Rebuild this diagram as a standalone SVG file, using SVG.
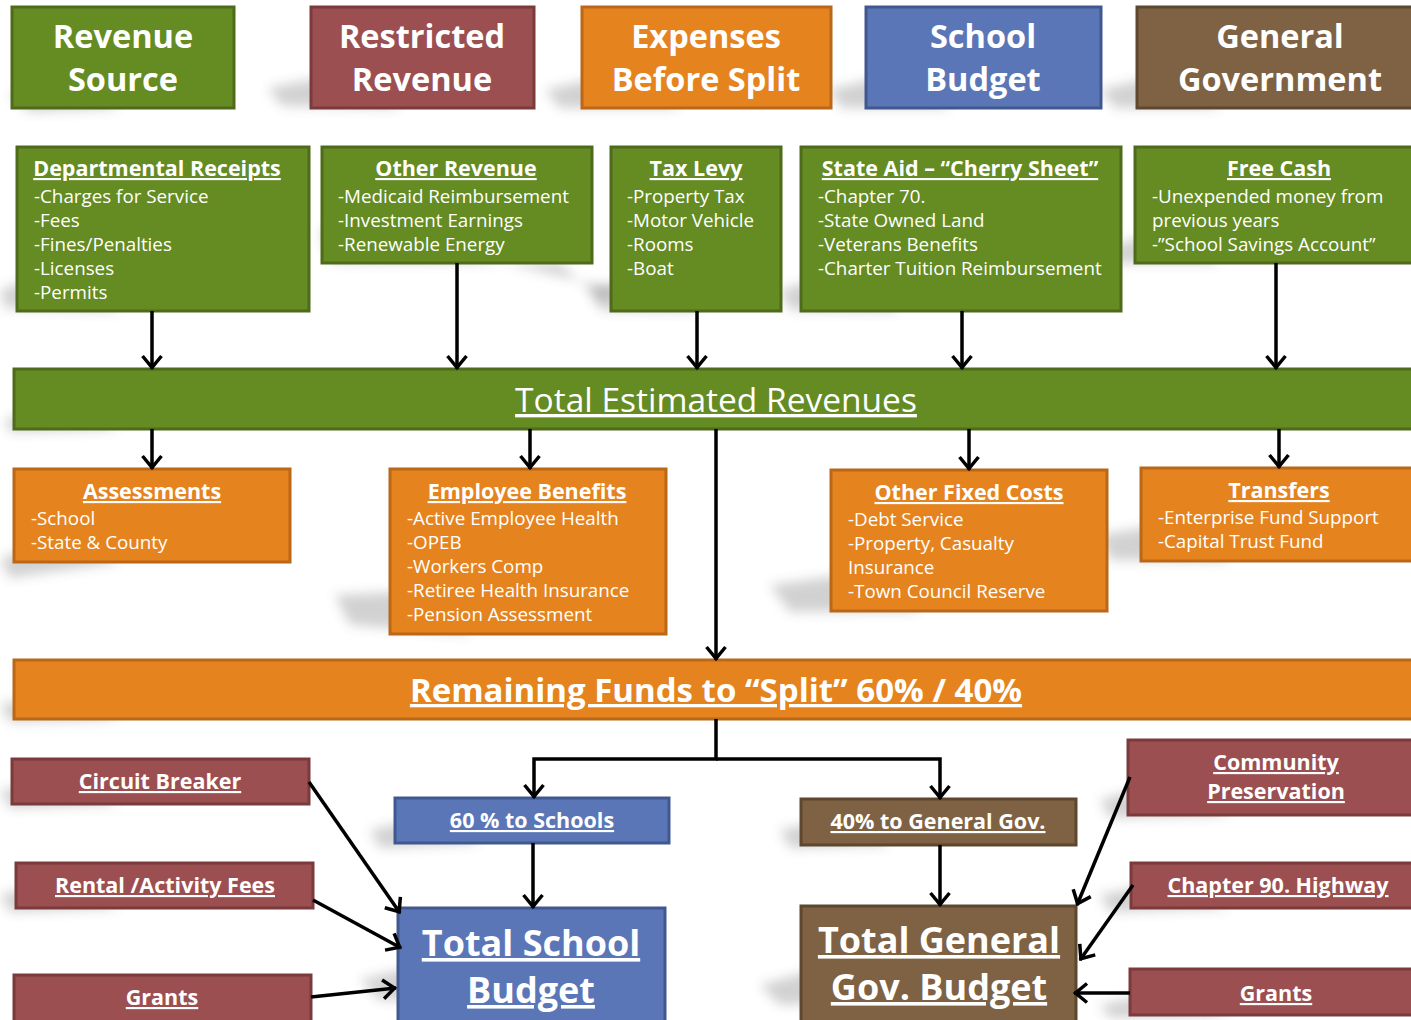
<svg xmlns="http://www.w3.org/2000/svg" width="1411" height="1020" viewBox="0 0 1411 1020">
  <style>
    text { font-family: "Open Sans", Lato, "Liberation Sans", sans-serif; fill: #ffffff; }
    .head { font-size: 32.5px; font-weight: bold; text-anchor: middle; }
    .ttl { font-size: 21.5px; font-weight: bold; text-anchor: middle; text-decoration: underline; }
    .item { font-size: 18.8px; }
    .mid { text-anchor: middle; }
    .u { text-decoration: underline; }
    .big { font-size: 36px; }
    .green { fill: #658B23; stroke: #4E6B1B; stroke-width: 3; }
    .red { fill: #9C4F51; stroke: #7B3B3D; stroke-width: 3; }
    .orange { fill: #E5841F; stroke: #BA6718; stroke-width: 3; }
    .blue { fill: #5B76B7; stroke: #40588F; stroke-width: 3; }
    .brown { fill: #7F6243; stroke: #5D472F; stroke-width: 3; }
    .conn { fill: none; stroke: #000; stroke-width: 3.5; }
    .shadow { fill: #6a6a6a; opacity: 0.3; filter: url(#soft); }
  </style>
  <defs>
    <filter id="soft" x="-50%" y="-50%" width="200%" height="200%">
      <feGaussianBlur stdDeviation="6"/>
    </filter>
    <marker id="arrow" markerUnits="userSpaceOnUse" markerWidth="30" markerHeight="30" viewBox="-15 -15 30 30" refX="0" refY="0" orient="auto">
      <path d="M-13,-9.5 L-1.5,0 L-13,9.5" fill="none" stroke="#000" stroke-width="3.5"/>
    </marker>
  </defs>

  <rect width="1411" height="1020" fill="#ffffff"/>

  <!-- soft perspective shadows cast behind the boxes -->
  <g id="shadows">
    <polygon class="shadow" points="60,70 10,95 30,112 120,108"/>
    <polygon class="shadow" points="360,70 268,88 282,106 400,108"/>
    <polygon class="shadow" points="630,70 545,90 560,108 680,108"/>
    <polygon class="shadow" points="910,70 828,90 842,108 950,108"/>
    <polygon class="shadow" points="1180,70 1100,90 1115,108 1220,108"/>
    <polygon class="shadow" points="60,270 0,290 5,308 120,311"/>
    <polygon class="shadow" points="340,225 320,230 330,262 560,263 600,300 620,290"/>
    <polygon class="shadow" points="660,270 590,290 600,310 700,311"/>
    <polygon class="shadow" points="850,270 780,290 790,310 900,311"/>
    <polygon class="shadow" points="1180,225 1100,250 1110,263 1220,263"/>
    <polygon class="shadow" points="60,400 5,420 10,432 120,429"/>
    <polygon class="shadow" points="60,530 0,560 10,578 120,562"/>
    <polygon class="shadow" points="440,590 335,595 350,625 470,634"/>
    <polygon class="shadow" points="880,570 770,585 790,612 920,611"/>
    <polygon class="shadow" points="1190,520 1100,535 1110,560 1230,561"/>
    <polygon class="shadow" points="60,690 0,705 10,722 120,719"/>
    <polygon class="shadow" points="60,780 0,790 10,808 120,804"/>
    <polygon class="shadow" points="440,815 370,830 380,848 480,843"/>
    <polygon class="shadow" points="850,815 780,830 790,848 890,845"/>
    <polygon class="shadow" points="60,880 0,895 10,912 120,908"/>
    <polygon class="shadow" points="440,960 360,980 380,1000 480,1000"/>
    <polygon class="shadow" points="850,960 760,985 780,1005 890,1000"/>
    <polygon class="shadow" points="1170,780 1100,800 1110,818 1230,815"/>
    <polygon class="shadow" points="1170,880 1100,895 1110,912 1230,908"/>
    <polygon class="shadow" points="1170,990 1100,1005 1110,1018 1230,1015"/>
  </g>

  <!-- legend row -->
  <g id="legend-revenue-source">
    <rect class="green" x="12" y="7" width="222" height="101"/>
    <text class="head" x="123" y="48">Revenue</text>
    <text class="head" x="123" y="91">Source</text>
  </g>
  <g id="legend-restricted-revenue">
    <rect class="red" x="311" y="7" width="223" height="101"/>
    <text class="head" x="422" y="48">Restricted</text>
    <text class="head" x="422" y="91">Revenue</text>
  </g>
  <g id="legend-expenses">
    <rect class="orange" x="582" y="7" width="249" height="101"/>
    <text class="head" x="706" y="48">Expenses</text>
    <text class="head" x="706" y="91">Before Split</text>
  </g>
  <g id="legend-school-budget">
    <rect class="blue" x="866" y="7" width="235" height="101"/>
    <text class="head" x="983" y="48">School</text>
    <text class="head" x="983" y="91">Budget</text>
  </g>
  <g id="legend-general-government">
    <rect class="brown" x="1137" y="7" width="280" height="101"/>
    <text class="head" x="1280" y="48">General</text>
    <text class="head" x="1280" y="91">Government</text>
  </g>

  <!-- revenue sources -->
  <g id="departmental-receipts">
    <rect class="green" x="17" y="147" width="292" height="164"/>
    <text class="ttl" x="157" y="176">Departmental Receipts</text>
    <text class="item" x="34" y="203">-Charges for Service</text>
    <text class="item" x="34" y="227">-Fees</text>
    <text class="item" x="34" y="251">-Fines/Penalties</text>
    <text class="item" x="34" y="275">-Licenses</text>
    <text class="item" x="34" y="299">-Permits</text>
  </g>
  <g id="other-revenue">
    <rect class="green" x="322" y="147" width="270" height="116"/>
    <text class="ttl" x="456" y="176">Other Revenue</text>
    <text class="item" x="338" y="203">-Medicaid Reimbursement</text>
    <text class="item" x="338" y="227">-Investment Earnings</text>
    <text class="item" x="338" y="251">-Renewable Energy</text>
  </g>
  <g id="tax-levy">
    <rect class="green" x="611" y="147" width="170" height="164"/>
    <text class="ttl" x="696" y="176">Tax Levy</text>
    <text class="item" x="627" y="203">-Property Tax</text>
    <text class="item" x="627" y="227">-Motor Vehicle</text>
    <text class="item" x="627" y="251">-Rooms</text>
    <text class="item" x="627" y="275">-Boat</text>
  </g>
  <g id="state-aid">
    <rect class="green" x="801" y="147" width="320" height="164"/>
    <text class="ttl" x="960" y="176">State Aid – “Cherry Sheet”</text>
    <text class="item" x="818" y="203">-Chapter 70.</text>
    <text class="item" x="818" y="227">-State Owned Land</text>
    <text class="item" x="818" y="251">-Veterans Benefits</text>
    <text class="item" x="818" y="275">-Charter Tuition Reimbursement</text>
  </g>
  <g id="free-cash">
    <rect class="green" x="1135" y="147" width="282" height="116"/>
    <text class="ttl" x="1279" y="176">Free Cash</text>
    <text class="item" x="1152" y="203">-Unexpended money from</text>
    <text class="item" x="1152" y="227">previous years</text>
    <text class="item" x="1152" y="251">-”School Savings Account”</text>
  </g>

  <g id="total-estimated-revenues">
    <rect class="green" x="14" y="369" width="1403" height="60"/>
    <text class="mid u" x="716" y="412" style="font-size:33.5px">Total Estimated Revenues</text>
  </g>

  <!-- expenses before split -->
  <g id="assessments">
    <rect class="orange" x="14" y="469" width="276" height="93"/>
    <text class="ttl" x="152" y="499">Assessments</text>
    <text class="item" x="31" y="525">-School</text>
    <text class="item" x="31" y="549">-State &amp; County</text>
  </g>
  <g id="employee-benefits">
    <rect class="orange" x="390" y="469" width="276" height="165"/>
    <text class="ttl" x="527" y="499">Employee Benefits</text>
    <text class="item" x="407" y="525">-Active Employee Health</text>
    <text class="item" x="407" y="549">-OPEB</text>
    <text class="item" x="407" y="573">-Workers Comp</text>
    <text class="item" x="407" y="597">-Retiree Health Insurance</text>
    <text class="item" x="407" y="621">-Pension Assessment</text>
  </g>
  <g id="other-fixed-costs">
    <rect class="orange" x="831" y="470" width="276" height="141"/>
    <text class="ttl" x="969" y="500">Other Fixed Costs</text>
    <text class="item" x="848" y="526">-Debt Service</text>
    <text class="item" x="848" y="550">-Property, Casualty</text>
    <text class="item" x="848" y="574">Insurance</text>
    <text class="item" x="848" y="598">-Town Council Reserve</text>
  </g>
  <g id="transfers">
    <rect class="orange" x="1141" y="468" width="276" height="93"/>
    <text class="ttl" x="1279" y="498">Transfers</text>
    <text class="item" x="1158" y="524">-Enterprise Fund Support</text>
    <text class="item" x="1158" y="548">-Capital Trust Fund</text>
  </g>

  <g id="remaining-funds">
    <rect class="orange" x="14" y="660" width="1403" height="59"/>
    <text class="mid u" x="716" y="702" style="font-size:33px;font-weight:bold">Remaining Funds to “Split” 60% / 40%</text>
  </g>

  <!-- split -->
  <g id="schools-share">
    <rect class="blue" x="395" y="798" width="274" height="45"/>
    <text class="ttl" x="532" y="828">60 % to Schools</text>
  </g>
  <g id="general-gov-share">
    <rect class="brown" x="801" y="799" width="275" height="46"/>
    <text class="ttl" x="938" y="829">40% to General Gov.</text>
  </g>
  <g id="total-school-budget">
    <rect class="blue" x="398" y="908" width="267" height="120"/>
    <text class="ttl big" x="531" y="956">Total School</text>
    <text class="ttl big" x="531" y="1003">Budget</text>
  </g>
  <g id="total-general-gov-budget">
    <rect class="brown" x="801" y="906" width="275" height="122"/>
    <text class="ttl big" x="939" y="953">Total General</text>
    <text class="ttl big" x="939" y="1000">Gov. Budget</text>
  </g>

  <!-- restricted revenue sources -->
  <g id="circuit-breaker">
    <rect class="red" x="12" y="759" width="297" height="45"/>
    <text class="ttl" x="160" y="789">Circuit Breaker</text>
  </g>
  <g id="rental-activity-fees">
    <rect class="red" x="16" y="863" width="297" height="45"/>
    <text class="ttl" x="165" y="893">Rental /Activity Fees</text>
  </g>
  <g id="school-grants">
    <rect class="red" x="14" y="975" width="297" height="50"/>
    <text class="ttl" x="162" y="1005">Grants</text>
  </g>
  <g id="community-preservation">
    <rect class="red" x="1128" y="740" width="289" height="75"/>
    <text class="ttl" x="1276" y="770">Community</text>
    <text class="ttl" x="1276" y="799">Preservation</text>
  </g>
  <g id="chapter-90-highway">
    <rect class="red" x="1131" y="863" width="286" height="45"/>
    <text class="ttl" x="1278" y="893">Chapter 90. Highway</text>
  </g>
  <g id="general-gov-grants">
    <rect class="red" x="1130" y="969" width="287" height="46"/>
    <text class="ttl" x="1276" y="1001">Grants</text>
  </g>

  <!-- connectors -->
  <g id="connectors">
    <line class="conn" x1="152" y1="311" x2="152" y2="369" marker-end="url(#arrow)"/>
    <line class="conn" x1="457" y1="263" x2="457" y2="369" marker-end="url(#arrow)"/>
    <line class="conn" x1="697" y1="311" x2="697" y2="369" marker-end="url(#arrow)"/>
    <line class="conn" x1="962" y1="311" x2="962" y2="369" marker-end="url(#arrow)"/>
    <line class="conn" x1="1276" y1="263" x2="1276" y2="369" marker-end="url(#arrow)"/>

    <line class="conn" x1="152" y1="429" x2="152" y2="469" marker-end="url(#arrow)"/>
    <line class="conn" x1="530" y1="429" x2="530" y2="469" marker-end="url(#arrow)"/>
    <line class="conn" x1="969" y1="429" x2="969" y2="470" marker-end="url(#arrow)"/>
    <line class="conn" x1="1279" y1="429" x2="1279" y2="468" marker-end="url(#arrow)"/>
    <line class="conn" x1="716" y1="429" x2="716" y2="660" marker-end="url(#arrow)"/>

    <polyline class="conn" points="716,719 716,759 534,759 534,798" marker-end="url(#arrow)"/>
    <polyline class="conn" points="716,759 940,759 940,799" marker-end="url(#arrow)"/>

    <line class="conn" x1="533" y1="843" x2="533" y2="908" marker-end="url(#arrow)"/>
    <line class="conn" x1="940" y1="845" x2="940" y2="906" marker-end="url(#arrow)"/>

    <line class="conn" x1="309" y1="782" x2="400" y2="913" marker-end="url(#arrow)"/>
    <line class="conn" x1="313" y1="900" x2="401" y2="948" marker-end="url(#arrow)"/>
    <line class="conn" x1="311" y1="997" x2="396" y2="988" marker-end="url(#arrow)"/>

    <line class="conn" x1="1130" y1="777" x2="1077" y2="905" marker-end="url(#arrow)"/>
    <line class="conn" x1="1133" y1="885" x2="1080" y2="960" marker-end="url(#arrow)"/>
    <line class="conn" x1="1130" y1="993" x2="1074" y2="993" marker-end="url(#arrow)"/>
  </g>
</svg>
